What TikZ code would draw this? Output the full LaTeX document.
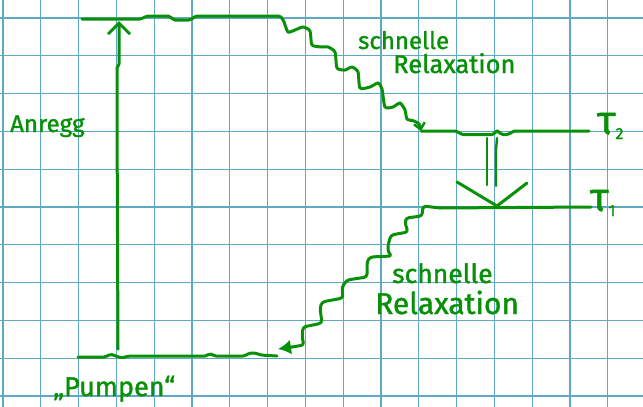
\documentclass[tikz,border=0pt]{standalone}
\usepackage{fontspec}
\setmainfont{Fira Sans}
\newfontfamily\handfont[FakeBold=1.3]{Fira Sans}
\usetikzlibrary{arrows.meta}
\definecolor{pen}{RGB}{8,145,8}
\definecolor{gridc}{RGB}{95,168,196}
\begin{document}
\begin{tikzpicture}[x=1pt,y=-1pt,
  pen/.style={draw=pen,line width=3pt,line cap=round,line join=round},
  thinpen/.style={draw=pen,line width=2.4pt,line cap=round,line join=round},
  gridline/.style={draw=gridc,line width=1.3pt},
  lbl/.style={text=pen,inner sep=0pt,anchor=base west}]
\useasboundingbox[fill=white] (0,0) rectangle (643,407);
% grid paper
\foreach \i in {0,...,16} \draw[gridline] ({3+37.8*\i},0) -- ({3+37.8*\i},407);
\foreach \j in {0,...,10} \draw[gridline] (0,{18+37.8*\j}) -- (643,{18+37.8*\j});

% level end points
\coordinate (E3L) at (82,19);
\coordinate (E3R) at (277,16);
\coordinate (E2L) at (421,131);
\coordinate (E2R) at (589,131);
\coordinate (E1L) at (440,208);
\coordinate (E1R) at (591,207);
\coordinate (E0L) at (78,357);
\coordinate (E0R) at (277,356);
\coordinate (pumpS) at (118,349);
\coordinate (pumpE) at (119,21);
\coordinate (emV) at (497,206);
\coordinate (relaxEnd) at (278,349);

% levels
\draw[pen,rounded corners=2pt] (E3L) -- (142,19) -- (146,16) -- (170,16) -- (173,20) -- (191,20) -- (195,16) -- (E3R);
\draw[pen,rounded corners=2pt] (E2L) -- (457,131) -- (461,134.5) -- (494,134.5) -- (497,130) -- (501,134.5) -- (509,134.5) -- (513,131) -- (E2R);
\draw[pen] (E1L) -- (E1R);
\draw[pen,rounded corners=2pt] (E0L) -- (106,357) -- (110,354) -- (116,356) -- (122,358) -- (128,356) -- (207,356) -- (210,353) -- (214,356) -- (245,356) -- (249,353) -- (256,353) -- (260,355) -- (E0R);

% pump arrow
\draw[pen,-{Straight Barb[length=11pt,width=22pt,line width=3pt]}] (pumpS) -- (117,115) -- (117,68) -- (119,64) -- (pumpE);

% upper fast relaxation (wiggly)
\draw[pen,-{Straight Barb[length=6pt,width=11pt,line width=2.5pt]}]
  plot[smooth,tension=0.4] coordinates {(E3R) (281,17) (284,22) (288,32) (295,30) (303,27) (310,31) (312,45) (322,47) (328,47) (335,52) (337,68) (345,70) (352,67) (358,72) (360,88) (370,87) (378,83) (382,89) (385,107) (393,107) (400,103) (405,110) (407,119) (414,121) (419,124) (421,131)};

% lower fast relaxation (staircase)
\draw[pen,rounded corners=3pt,-{Latex[length=13pt,width=15pt]}]
  (E1L) -- (423,206) -- (422,216) -- (406,218) -- (405,223) -- (408,232) -- (391,235) -- (388,245) -- (388,252) -- (392,256) -- (370,257) -- (367,262) -- (367,277) -- (347,280) -- (342,287) -- (343,298) -- (322,302) -- (320,308) -- (322,323) -- (313,325) -- (303,327) -- (302,337) -- (304,345) -- (292,347) -- (relaxEnd);

% stimulated emission (double line + V)
\draw[thinpen] (487,138) -- (487,185);
\draw[thinpen] (497,138) -- (496,150) -- (496,186);
\draw[pen] (457,182) -- (emV) -- (527,183);

% labels
\node[lbl,font=\handfont\fontsize{24}{24}\selectfont] (anr) at (10,132) {Anregg};
\node[lbl,font=\handfont\fontsize{24}{24}\selectfont] (s1) at (358,49) {schnelle};
\node[lbl,font=\handfont\fontsize{25.5}{26}\selectfont] (r1) at (393,73) {Relaxation};
\node[lbl,font=\handfont\fontsize{26.5}{27}\selectfont] (s2) at (392,283) {schnelle};
\node[lbl,font=\handfont\fontsize{30}{30}\selectfont] (r2) at (375,314) {Relaxation};
\node[lbl,font=\handfont\fontsize{27}{27}\selectfont] (pmp) at (53,396) {„Pumpen“};
\node[lbl,font=\handfont\fontsize{40}{40}\selectfont] (t2) at (597,134) {τ\raisebox{-5pt}{\fontsize{16}{16}\selectfont 2}};
\node[lbl,font=\handfont\fontsize{40}{40}\selectfont] (t1) at (590,211) {τ\raisebox{-5pt}{\fontsize{16}{16}\selectfont 1}};
\end{tikzpicture}
\end{document}
